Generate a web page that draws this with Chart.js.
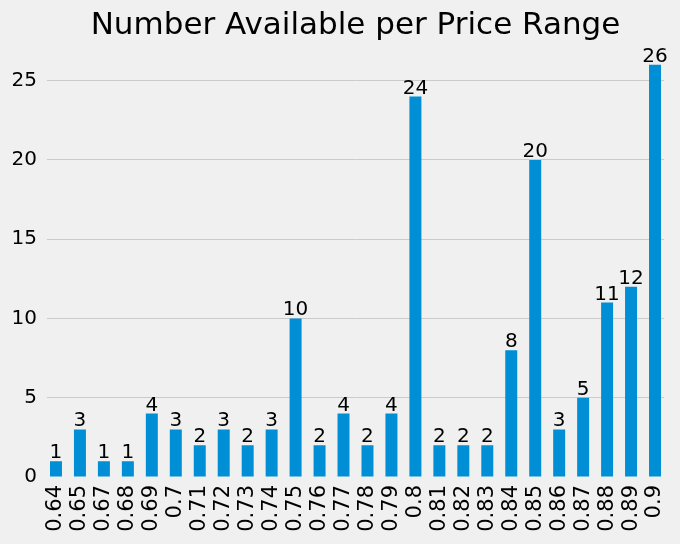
<!DOCTYPE html>
<html>
<head>
<meta charset="utf-8">
<script src="https://cdn.jsdelivr.net/npm/chart.js@4/dist/chart.umd.min.js"></script>
<style>
  html, body { margin: 0; padding: 0; background: #f0f0f0; }
  #wrap { width: 680px; height: 544px; }
</style>
</head>
<body>
<div id="wrap"><canvas id="c" width="680" height="544"></canvas></div>
<script>
const categories = ["0.64","0.65","0.67","0.68","0.69","0.7","0.71","0.72","0.73","0.74","0.75","0.76","0.77","0.78","0.79","0.8","0.81","0.82","0.83","0.84","0.85","0.86","0.87","0.88","0.89","0.9"];
const counts = [1,3,1,1,4,3,2,3,2,3,10,2,4,2,4,24,2,2,2,8,20,3,5,11,12,26];
const yTicks = [0,5,10,15,20,25];
const titleText = "Number Available per Price Range";

const FONT = "'DejaVu Sans', sans-serif";

const barLabels = {
  id: 'barLabels',
  afterDatasetsDraw(chart) {
    const ctx = chart.ctx;
    const meta = chart.getDatasetMeta(0);
    ctx.save();
    ctx.font = "20px " + FONT;
    ctx.fillStyle = '#000';
    ctx.textAlign = 'center';
    ctx.textBaseline = 'alphabetic';
    meta.data.forEach((el, i) => {
      ctx.fillText(String(counts[i]), el.x, el.y - 3);
    });
    ctx.restore();
  }
};

new Chart(document.getElementById('c'), {
  type: 'bar',
  data: {
    datasets: [{
      data: counts.map((v, i) => ({ x: i, y: v })),
      backgroundColor: '#008fd5',
      borderWidth: 0,
      categoryPercentage: 1,
      barPercentage: 0.5
    }]
  },
  options: {
    responsive: false,
    devicePixelRatio: 1,
    animation: false,
    layout: { padding: { top: 0, right: 16, bottom: 0, left: 0 } },
    plugins: {
      legend: { display: false },
      tooltip: { enabled: false },
      title: {
        display: true,
        text: titleText,
        fullSize: false,
        color: '#000',
        font: { family: FONT, size: 31, weight: 'normal', lineHeight: 1.2 },
        padding: { top: 7, bottom: 0 }
      }
    },
    scales: {
      x: {
        type: 'linear',
        offset: false,
        min: -0.375,
        max: categories.length - 1 + 0.375,
        grid: { display: false, drawTicks: false },
        border: { display: false },
        afterBuildTicks(scale) {
          scale.ticks = categories.map((c, i) => ({ value: i }));
        },
        afterFit(scale) {
          scale.height = 67;
          scale.paddingLeft = 0;
          scale.paddingRight = 0;
        },
        ticks: {
          autoSkip: false,
          minRotation: 90,
          maxRotation: 90,
          padding: 8,
          color: '#000',
          font: { family: FONT, size: 21 },
          callback: (v) => categories[v]
        }
      },
      y: {
        min: 0,
        max: 27.3,
        grid: {
          color: (ctx) => (ctx.tick && ctx.tick.value === 0) ? 'rgba(0,0,0,0)' : '#cbcbcb',
          lineWidth: 1,
          drawTicks: false
        },
        border: { display: false },
        afterBuildTicks(scale) {
          scale.ticks = yTicks.map(v => ({ value: v }));
        },
        afterFit(scale) {
          scale.width = 47;
          scale.paddingTop = 0;
          scale.paddingBottom = 0;
        },
        ticks: {
          padding: 10,
          color: '#000',
          font: { family: FONT, size: 20 }
        }
      }
    }
  },
  plugins: [barLabels]
});
</script>
</body>
</html>
